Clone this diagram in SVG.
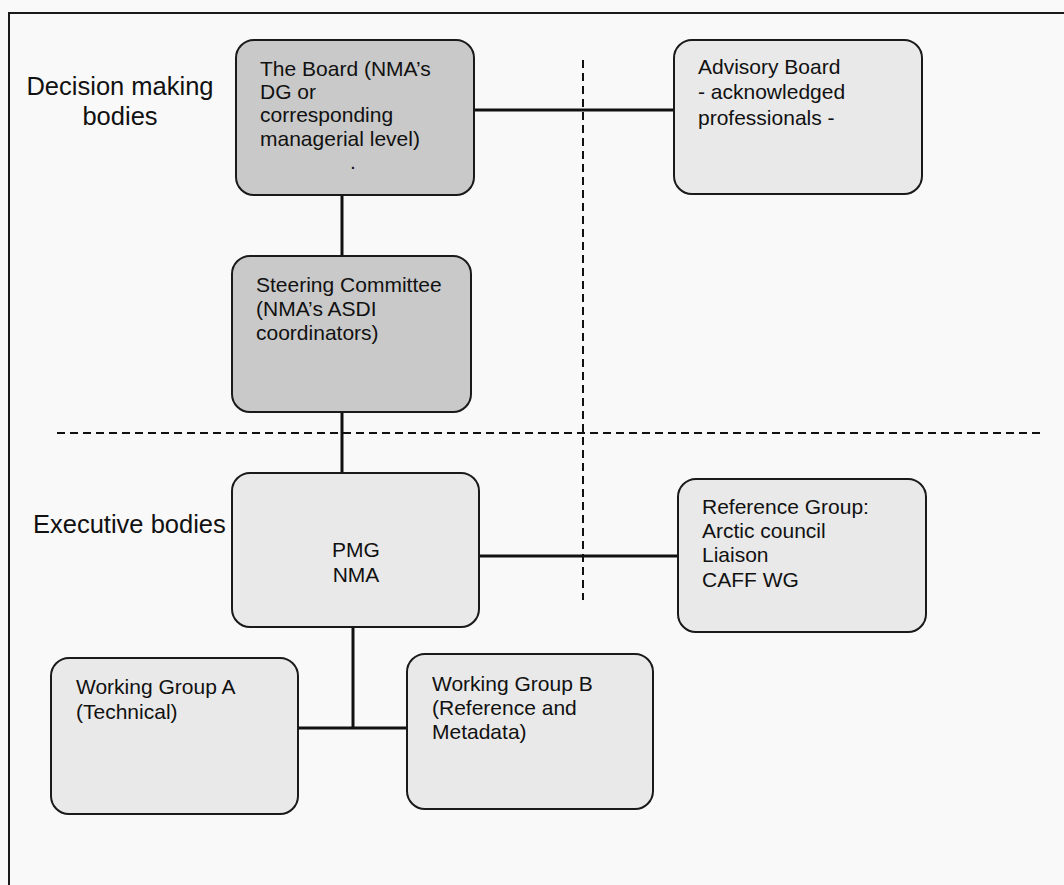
<svg xmlns="http://www.w3.org/2000/svg" width="1064" height="885" viewBox="0 0 1064 885">
<style>
.box{stroke:#1a1a1a;stroke-width:2}
.dark{fill:#c9c9c9}
.light{fill:#e9e9e9}
.t{font-family:"Liberation Sans",Arial,sans-serif;font-size:21px;fill:#111}
.lbl{font-family:"Liberation Sans",Arial,sans-serif;font-size:25.5px;fill:#111}
.conn{stroke:#111;stroke-width:3;fill:none}
.dash{stroke:#111;stroke-width:2;stroke-dasharray:8 5;fill:none}
</style>
<rect x="0" y="0" width="1064" height="885" fill="#f9f9f9"/>
<path d="M1064 13 H9 V885" fill="none" stroke="#1a1a1a" stroke-width="2"/>
<g id="labels">
<text class="lbl" x="120" y="95" text-anchor="middle">Decision making</text>
<text class="lbl" x="120" y="125" text-anchor="middle">bodies</text>
<text class="lbl" x="33" y="533">Executive bodies</text>
</g>
<g id="dividers">
<line class="dash" x1="583" y1="60" x2="583" y2="600"/>
<line class="dash" x1="57" y1="433" x2="1043" y2="433"/>
</g>
<g id="connectors">
<line class="conn" x1="474" y1="110" x2="674" y2="110"/>
<line class="conn" x1="342" y1="195" x2="342" y2="256"/>
<line class="conn" x1="342" y1="412" x2="342" y2="473"/>
<line class="conn" x1="479" y1="556" x2="678" y2="556"/>
<line class="conn" x1="353" y1="627" x2="353" y2="728"/>
<line class="conn" x1="298" y1="728" x2="407" y2="728"/>
</g>
<g id="board">
<rect class="box dark" x="236" y="40" width="238" height="155" rx="18"/>
<text class="t" x="260" y="76">The Board (NMA’s</text>
<text class="t" x="260" y="99">DG or</text>
<text class="t" x="260" y="122">corresponding</text>
<text class="t" x="260" y="146">managerial level)</text>
<text class="t" x="350" y="169">.</text>
</g>
<g id="advisory">
<rect class="box light" x="674" y="40" width="248" height="154" rx="18"/>
<text class="t" x="698" y="74">Advisory Board</text>
<text class="t" x="698" y="99">- acknowledged</text>
<text class="t" x="698" y="125">professionals -</text>
</g>
<g id="steering">
<rect class="box dark" x="232" y="256" width="239" height="156" rx="18"/>
<text class="t" x="256" y="292">Steering Committee</text>
<text class="t" x="256" y="316">(NMA’s ASDI</text>
<text class="t" x="256" y="340">coordinators)</text>
</g>
<g id="pmg">
<rect class="box light" x="232" y="473" width="247" height="154" rx="18"/>
<text class="t" x="356" y="557" text-anchor="middle">PMG</text>
<text class="t" x="356" y="582" text-anchor="middle">NMA</text>
</g>
<g id="reference">
<rect class="box light" x="678" y="479" width="248" height="153" rx="18"/>
<text class="t" x="702" y="514">Reference Group:</text>
<text class="t" x="702" y="538">Arctic council</text>
<text class="t" x="702" y="562">Liaison</text>
<text class="t" x="702" y="587">CAFF WG</text>
</g>
<g id="wga">
<rect class="box light" x="51" y="658" width="247" height="156" rx="18"/>
<text class="t" x="76" y="694">Working Group A</text>
<text class="t" x="76" y="719">(Technical)</text>
</g>
<g id="wgb">
<rect class="box light" x="407" y="654" width="246" height="155" rx="18"/>
<text class="t" x="432" y="691">Working Group B</text>
<text class="t" x="432" y="715">(Reference and</text>
<text class="t" x="432" y="739">Metadata)</text>
</g>
</svg>
